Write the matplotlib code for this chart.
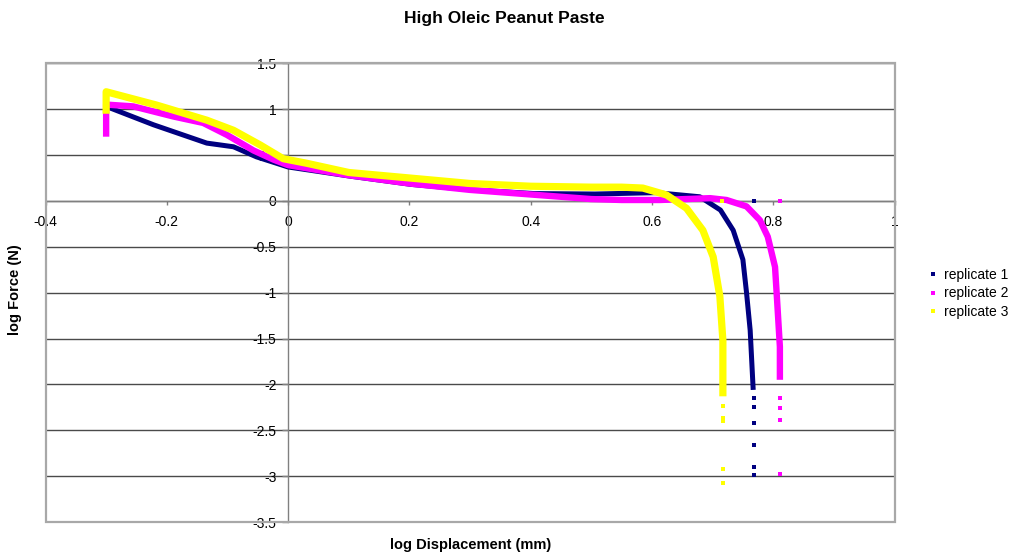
import numpy as np
import matplotlib
matplotlib.use('Agg')
import matplotlib.pyplot as plt
from matplotlib.lines import Line2D
from matplotlib.patches import Rectangle

plt.rcParams['font.family'] = ['Liberation Sans', 'DejaVu Sans']

# ── Data: log displacement (mm) vs log force (N) ─────────────────────────────
rep1_x = [-0.30, -0.222, -0.134, -0.090, -0.052, 0.0, 0.102, 0.203, 0.305,
          0.406, 0.506, 0.607, 0.679, 0.713, 0.734, 0.750, 0.756, 0.762, 0.767]
rep1_y = [1.03, 0.83, 0.63, 0.59, 0.48, 0.37, 0.27, 0.18, 0.12,
          0.08, 0.075, 0.09, 0.045, -0.10, -0.32, -0.64, -1.0, -1.41, -2.06]
rep1_pts_x = [0.768, 0.768, 0.768, 0.768, 0.768, 0.768, 0.769]
rep1_pts_y = [-2.15, -2.25, -2.42, -2.66, -2.90, -2.99, 0.0]

rep2_x = [-0.30, -0.30, -0.255, -0.189, -0.140, -0.101, -0.057, -0.024, 0.0,
          0.1, 0.2, 0.3, 0.4, 0.5, 0.55, 0.613, 0.696, 0.723, 0.756, 0.778,
          0.791, 0.803, 0.806, 0.811, 0.811]
rep2_y = [0.70, 1.05, 1.03, 0.92, 0.85, 0.72, 0.55, 0.45, 0.39,
          0.28, 0.19, 0.12, 0.07, 0.02, 0.01, 0.01, 0.03, 0.01, -0.06, -0.21,
          -0.39, -0.72, -1.04, -1.59, -1.95]
rep2_pts_x = [0.812, 0.812, 0.812, 0.812, 0.811]
rep2_pts_y = [-2.15, -2.26, -2.39, -2.98, 0.0]

rep3_x = [-0.30, -0.30, -0.217, -0.134, -0.090, -0.046, -0.008, 0.031, 0.1,
          0.2, 0.3, 0.4, 0.5, 0.55, 0.585, 0.624, 0.657, 0.684, 0.701, 0.712,
          0.717, 0.717]
rep3_y = [0.95, 1.19, 1.045, 0.88, 0.77, 0.61, 0.46, 0.41, 0.31,
          0.25, 0.19, 0.16, 0.15, 0.15, 0.14, 0.065, -0.08, -0.32, -0.61, -1.04,
          -1.52, -2.13]
rep3_pts_x = [0.718, 0.718, 0.718, 0.718, 0.718, 0.716]
rep3_pts_y = [-2.24, -2.37, -2.40, -2.92, -3.07, 0.0]

series_labels = ['replicate 1', 'replicate 2', 'replicate 3']
series_colors = ['#000080', '#FF00FF', '#FFFF00']

x_ticks = [-0.4, -0.2, 0, 0.2, 0.4, 0.6, 0.8, 1.0]
x_ticklabels = ['-0.4', '-0.2', '0', '0.2', '0.4', '0.6', '0.8', '1']
y_ticks = [-3.5, -3.0, -2.5, -2.0, -1.5, -1.0, -0.5, 0, 0.5, 1.0, 1.5]
y_ticklabels = ['-3.5', '-3', '-2.5', '-2', '-1.5', '-1', '-0.5', '0', '0.5', '1', '1.5']

# ── Figure ───────────────────────────────────────────────────────────────────
W, H = 1013, 555
fig = plt.figure(figsize=(W / 100, H / 100), dpi=100)
L, R, T, B = 45.5, 894.5, 63.3, 522.0
ax = fig.add_axes([L / W, 1 - B / H, (R - L) / W, (B - T) / H])
ax.set_xlim(-0.4, 1.0)
ax.set_ylim(-3.5, 1.5)

# axes cross at the origin, Excel style
ax.spines['left'].set_position(('data', 0))
ax.spines['bottom'].set_position(('data', 0))
for s in ['left', 'bottom']:
    ax.spines[s].set_color('#808080')
    ax.spines[s].set_linewidth(1.0)
for s in ['top', 'right']:
    ax.spines[s].set_visible(False)

ax.set_xticks(x_ticks)
ax.set_xticklabels(x_ticklabels)
ax.set_yticks(y_ticks)
ax.set_yticklabels(y_ticklabels)
ax.tick_params(axis='y', direction='out', length=4.3, width=1, color='#808080',
               pad=4, labelsize=10)
ax.tick_params(axis='x', direction='out', length=3, width=1, color='#808080',
               pad=7, labelsize=10)

ax.set_axisbelow(True)
ax.yaxis.grid(True, color='#4a4a4a', lw=1.0)

# plot-area frame
ax.add_patch(Rectangle((0, 0), 1, 1, transform=ax.transAxes, fill=False,
                       edgecolor='#a8a8a8', lw=1.6, zorder=3, clip_on=False))

# ── Series ───────────────────────────────────────────────────────────────────
lines = [(rep1_x, rep1_y, rep1_pts_x, rep1_pts_y, 3.6),
         (rep2_x, rep2_y, rep2_pts_x, rep2_pts_y, 4.6),
         (rep3_x, rep3_y, rep3_pts_x, rep3_pts_y, 5.2)]
for (xs, ys, px, py, lw), c in zip(lines, series_colors):
    ax.plot(xs, ys, color=c, lw=lw, solid_joinstyle='round',
            solid_capstyle='butt', zorder=4)
    ax.plot(px, py, ls='none', marker='s', ms=2.3, mew=0, color=c, zorder=4)

# ── Text ─────────────────────────────────────────────────────────────────────
fig.text(0.498, 1 - 18 / H, 'High Oleic Peanut Paste', ha='center', va='center',
         fontsize=12.5, fontweight='bold')
fig.text(471 / W, 1 - 545 / H, 'log Displacement (mm)', ha='center', va='center',
         fontsize=10.5, fontweight='bold')
fig.text(15 / W, 1 - 290 / H, 'log Force (N)', ha='center', va='center',
         rotation=90, fontsize=10.5, fontweight='bold')

handles = [Line2D([], [], ls='none', marker='s', ms=2.6, mew=0, color=c)
           for c in series_colors]
fig.legend(handles, series_labels, loc='upper left',
           bbox_to_anchor=(922 / W, 1 - 261 / H), frameon=False,
           fontsize=10, handlelength=0.6, handletextpad=0.5,
           labelspacing=0.32, borderpad=0)

fig.savefig('out.png', dpi=100)
